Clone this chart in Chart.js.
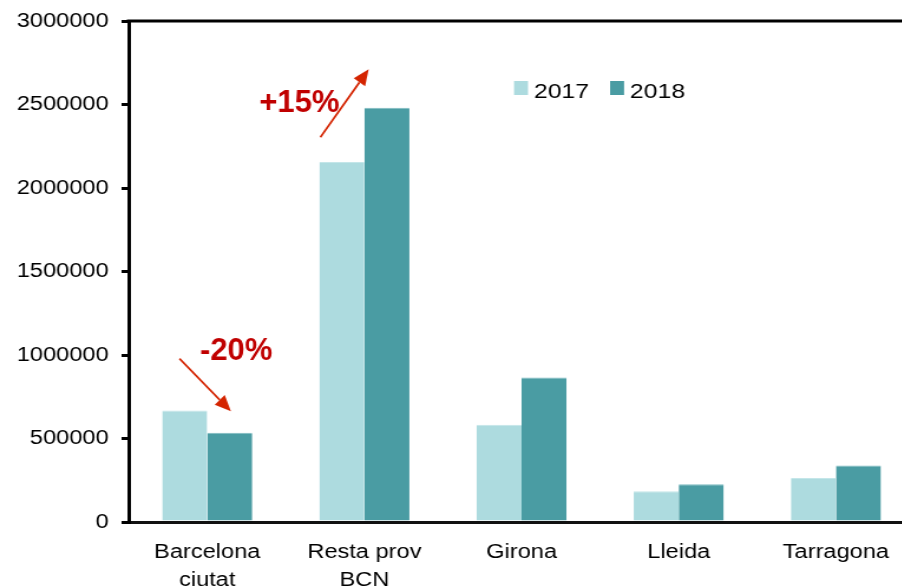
<!DOCTYPE html>
<html>
<head>
<meta charset="utf-8">
<script src="https://cdn.jsdelivr.net/npm/chart.js@4"></script>
<style>
  html, body { margin: 0; padding: 0; background: #fff; overflow: hidden; width: 902px; height: 588px; }
  #wrap { position: absolute; left: 0; top: 0; transform-origin: 0 0; transform: scaleX(1.18); }
  canvas { display: block; }
</style>
</head>
<body>
<div id="wrap"><canvas id="c" width="776" height="588" style="width:776px;height:588px"></canvas></div>
<script>
const S = 1.18; // horizontal stretch of the original picture

const categories = [['Barcelona', 'ciutat'], ['Resta prov', 'BCN'], 'Girona', 'Lleida', 'Tarragona'];
const seriesNames = ['2017', '2018'];
const values2017 = [667000, 2156000, 583000, 184000, 263000];
const values2018 = [535000, 2481000, 865000, 226000, 338000];
const yMin = 0, yMax = 3000000, yStep = 500000;
const changeLabels = ['-20%', '+15%'];
const changeCategories = [0, 1];

const colors = ['#addbdf', '#4a9ca3'];
const topEdge = ['#c4e6e9', '#7fbcc1'];
const FONT = "'Liberation Sans', Arial, sans-serif";

// annotation styling (display-pixel offsets from category centre)
const annStyle = [
  { textDx: 29, textY: 972000, fromDx: -27.7, fromY: 978000, toDx: 23.7, toY: 663000 },
  { textDx: -65, textY: 2455000, fromDx: -44, fromY: 2304000, toDx: 4.3, toY: 2711000 }
];

const overlay = {
  id: 'overlay',
  afterDraw(chart) {
    const ctx = chart.ctx, ca = chart.chartArea;
    const xs = chart.scales.x, ys = chart.scales.y;
    // top frame line
    ctx.save();
    ctx.strokeStyle = '#000';
    ctx.lineWidth = 3;
    ctx.beginPath();
    ctx.moveTo(ca.left - 1.5, ca.top);
    ctx.lineTo(chart.width, ca.top);
    ctx.stroke();
    ctx.restore();

    // legend (stretched like the chart)
    ctx.save();
    ctx.font = '21px ' + FONT;
    ctx.textBaseline = 'alphabetic';
    ctx.fillStyle = '#000';
    const legX = [435.6, 517], boxW = 14 / S, boxH = 14, boxY = 81, txtY = 97.5;
    seriesNames.forEach((n, i) => {
      ctx.fillStyle = colors[i];
      ctx.fillRect(legX[i], boxY, boxW, boxH);
      ctx.fillStyle = '#000';
      ctx.fillText(n, legX[i] + boxW + 5, txtY);
    });
    ctx.restore();

    // change annotations (not stretched)
    ctx.save();
    ctx.scale(1 / S, 1);
    changeLabels.forEach((lab, k) => {
      const st = annStyle[k];
      const cx = xs.getPixelForValue(changeCategories[k]) * S;
      ctx.font = 'bold 31px ' + FONT;
      ctx.fillStyle = '#c00000';
      ctx.textAlign = 'center';
      ctx.textBaseline = 'alphabetic';
      ctx.fillText(lab, cx + st.textDx, ys.getPixelForValue(st.textY));
      const x1 = cx + st.fromDx, y1 = ys.getPixelForValue(st.fromY);
      const x2 = cx + st.toDx, y2 = ys.getPixelForValue(st.toY);
      const ang = Math.atan2(y2 - y1, x2 - x1);
      const hl = 16, hw = 7;
      const bx = x2 - hl * Math.cos(ang), by = y2 - hl * Math.sin(ang);
      ctx.strokeStyle = '#d42400';
      ctx.fillStyle = '#d42400';
      ctx.lineWidth = 2;
      ctx.beginPath();
      ctx.moveTo(x1, y1);
      ctx.lineTo(bx, by);
      ctx.stroke();
      ctx.beginPath();
      ctx.moveTo(x2, y2);
      ctx.lineTo(bx + hw * Math.sin(ang), by - hw * Math.cos(ang));
      ctx.lineTo(bx - hw * Math.sin(ang), by + hw * Math.cos(ang));
      ctx.closePath();
      ctx.fill();
    });
    ctx.restore();
  }
};

new Chart(document.getElementById('c'), {
  type: 'bar',
  data: {
    labels: categories,
    datasets: [
      { label: seriesNames[0], data: values2017, backgroundColor: colors[0], borderColor: topEdge[0],
        borderWidth: { top: 1, left: 0, right: 0, bottom: 0 }, borderSkipped: 'bottom',
        barPercentage: 1, categoryPercentage: 0.573 },
      { label: seriesNames[1], data: values2018, backgroundColor: colors[1], borderColor: topEdge[1],
        borderWidth: { top: 1, left: 0, right: 0, bottom: 0 }, borderSkipped: 'bottom',
        barPercentage: 1, categoryPercentage: 0.573 }
    ]
  },
  options: {
    responsive: false,
    animation: false,
    devicePixelRatio: 1,
    layout: { padding: { top: 20, right: 1, bottom: 0, left: 0 } },
    plugins: { legend: { display: false }, tooltip: { enabled: false } },
    scales: {
      x: {
        z: 1,
        grid: { display: false, drawTicks: false },
        border: { display: true, color: '#111', width: 3 },
        ticks: { color: '#000', font: { family: FONT, size: 20, lineHeight: 1.4 }, padding: 16, maxRotation: 0, autoSkip: false },
        afterFit(s) { s.height = 66; }
      },
      y: {
        z: 1,
        min: yMin, max: yMax,
        grid: { drawOnChartArea: false, drawTicks: true, tickLength: 6, lineWidth: 3, color: '#000' },
        border: { display: true, color: '#000', width: 3 },
        ticks: { stepSize: yStep, color: '#000', font: { family: FONT, size: 20, lineHeight: 1 }, padding: 11,
                 callback: (v) => String(v) },
        afterFit(s) { s.width = 109; }
      }
    }
  },
  plugins: [overlay]
});
</script>
</body>
</html>
